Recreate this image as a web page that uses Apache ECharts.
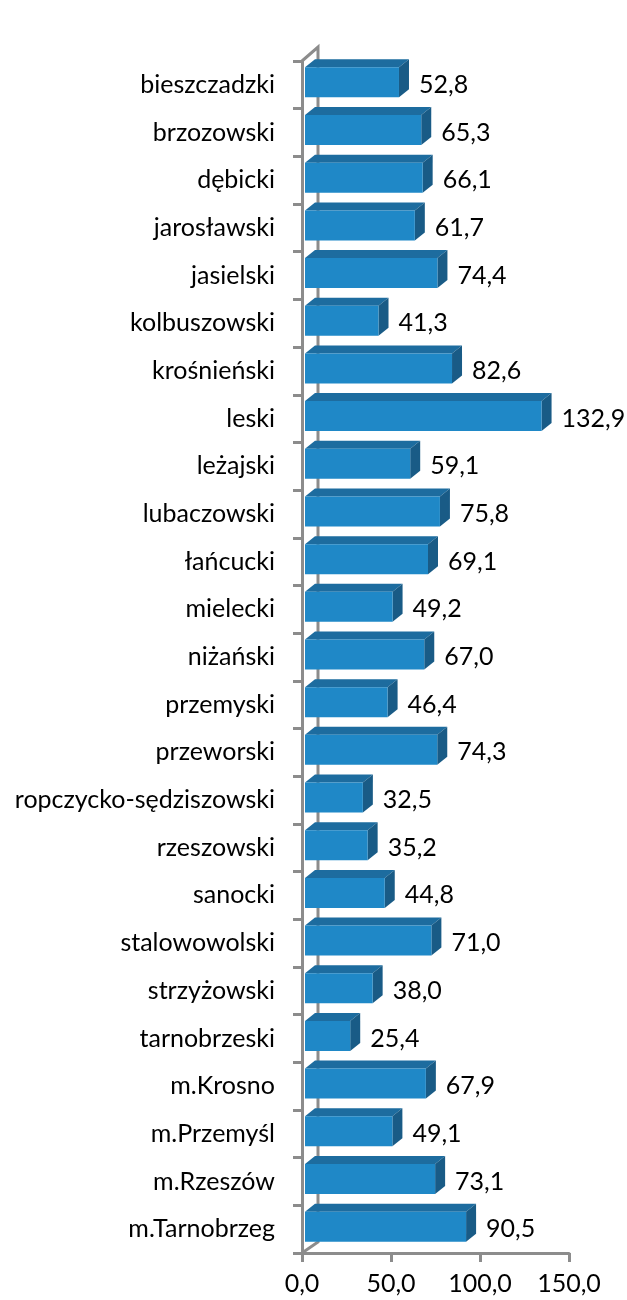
<!DOCTYPE html>
<html>
<head>
<meta charset="utf-8">
<script src="https://cdn.jsdelivr.net/npm/echarts@6/dist/echarts.min.js"></script>
<style>
  html, body { margin: 0; padding: 0; background: #fff; }
  #chart { width: 627px; height: 1300px; }
</style>
</head>
<body>
<div id="chart"></div>
<script>
// Powiaty of the Podkarpackie voivodeship
const categories = [
  'bieszczadzki', 'brzozowski', 'dębicki', 'jarosławski', 'jasielski',
  'kolbuszowski', 'krośnieński', 'leski', 'leżajski', 'lubaczowski',
  'łańcucki', 'mielecki', 'niżański', 'przemyski', 'przeworski',
  'ropczycko-sędziszowski', 'rzeszowski', 'sanocki', 'stalowowolski',
  'strzyżowski', 'tarnobrzeski', 'm.Krosno', 'm.Przemyśl', 'm.Rzeszów',
  'm.Tarnobrzeg'
];
const values = [
  52.8, 65.3, 66.1, 61.7, 74.4,
  41.3, 82.6, 132.9, 59.1, 75.8,
  69.1, 49.2, 67.0, 46.4, 74.3,
  32.5, 35.2, 44.8, 71.0,
  38.0, 25.4, 67.9, 49.1, 73.1,
  90.5
];
const xTicks = [0, 50, 100, 150];

const FONT = 'Lato, "Open Sans", sans-serif';
const AXIS_GRAY = '#8c8c8c';
const FRONT = '#1f88c7';
const TOP = '#1d6c9f';
const SIDE = '#195b86';
const DX = 10, DY = -8;     // depth of each bar
const WX = 16, WY = -14;    // depth of the back wall

const fmt = v => v.toFixed(1).replace('.', ',');

const chart = echarts.init(document.getElementById('chart'));

chart.setOption({
  animation: false,
  grid: { left: 302, right: 58, top: 61, bottom: 47 },
  xAxis: {
    type: 'value',
    min: xTicks[0],
    max: xTicks[xTicks.length - 1],
    interval: xTicks[1] - xTicks[0],
    splitLine: { show: false },
    axisLine: { show: true, lineStyle: { color: AXIS_GRAY, width: 3 } },
    axisTick: { show: true, length: 9, lineStyle: { color: AXIS_GRAY, width: 3 } },
    axisLabel: {
      color: '#000', fontFamily: FONT, fontSize: 25, margin: 18,
      formatter: v => fmt(v)
    }
  },
  yAxis: {
    type: 'category',
    data: categories,
    inverse: true,
    axisLine: { show: true, lineStyle: { color: AXIS_GRAY, width: 3 } },
    axisTick: { show: true, length: 9, lineStyle: { color: AXIS_GRAY, width: 3 } },
    axisLabel: { color: '#000', fontFamily: FONT, fontSize: 25, margin: 27 }
  },
  series: [
    {
      // back wall and floor edges
      type: 'custom',
      data: [0],
      silent: true,
      z: 1,
      renderItem: function (params, api) {
        const cs = params.coordSys;
        const x0 = cs.x, top = cs.y, bottom = cs.y + cs.height;
        return {
          type: 'polyline',
          shape: {
            points: [
              [x0, top], [x0 + WX, top + WY],
              [x0 + WX, bottom + WY + 3], [x0, bottom]
            ]
          },
          style: { stroke: AXIS_GRAY, lineWidth: 3, fill: null }
        };
      }
    },
    {
      type: 'custom',
      data: values.map((v, i) => [v, i]),
      encode: { x: 0, y: 1 },
      z: 3,
      renderItem: function (params, api) {
        const v = api.value(0);
        const c = api.value(1);
        const start = api.coord([0, c]);
        const end = api.coord([v, c]);
        const x1 = start[0] + 3;
        const x2 = end[0] + 3;
        const cy = start[1] - 2.5;
        const h = 30;
        const y1 = cy - h / 2, y2 = cy + h / 2;
        return {
          type: 'group',
          children: [
            {
              type: 'polygon',
              shape: { points: [[x1, y1], [x2, y1], [x2 + DX, y1 + DY], [x1 + DX, y1 + DY]] },
              style: { fill: TOP }
            },
            {
              type: 'polygon',
              shape: { points: [[x2, y1], [x2 + DX, y1 + DY], [x2 + DX, y2 + DY], [x2, y2]] },
              style: { fill: SIDE }
            },
            {
              type: 'rect',
              shape: { x: x1, y: y1, width: x2 - x1, height: h },
              style: { fill: FRONT }
            },
            {
              type: 'text',
              style: {
                x: x2 + 20, y: start[1],
                text: fmt(v),
                fill: '#000',
                font: '25px ' + FONT,
                verticalAlign: 'middle',
                align: 'left'
              }
            }
          ]
        };
      }
    }
  ]
});
</script>
</body>
</html>
